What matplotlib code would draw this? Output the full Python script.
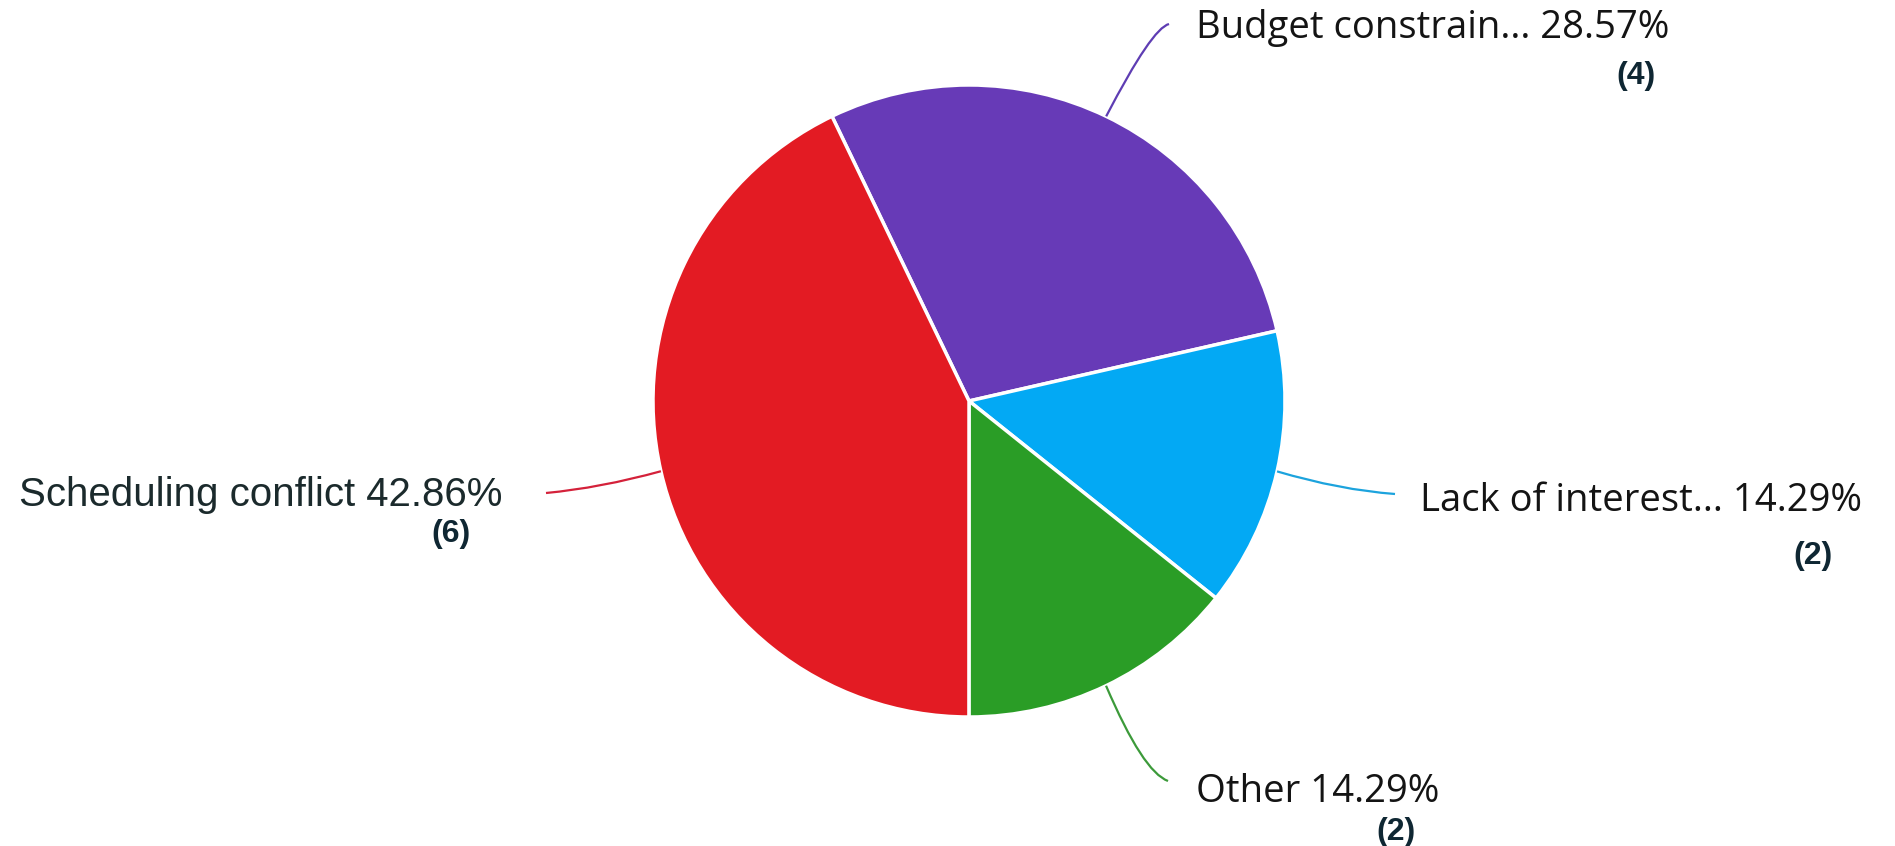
import numpy as np
import matplotlib
matplotlib.use("Agg")
import matplotlib.pyplot as plt
from matplotlib.path import Path
from matplotlib.patches import PathPatch

categories = ["Budget constrain...", "Lack of interest...", "Other", "Scheduling conflict"]
counts = [4, 2, 2, 6]
colors = ["#673AB7", "#03A9F4", "#2A9D26", "#E31B23"]
line_colors = ["#5E3DB3", "#1CA3DD", "#3C9A3A", "#D4213A"]

W, H = 1895, 846
fig = plt.figure(figsize=(W / 100, H / 100), dpi=100)
ax = fig.add_axes([0, 0, 1, 1])

cx, cy, R = 969, 445, 316
start = 115.7
ax.pie(counts, colors=colors, startangle=start, counterclock=False,
       center=(cx, cy), radius=R,
       wedgeprops=dict(edgecolor="white", linewidth=2.5))
ax.set_xlim(0, W)
ax.set_ylim(0, H)
ax.set_aspect("equal")
ax.axis("off")

total = sum(counts)
pcts = [100 * c / total for c in counts]

lab_font, lab_size = "Open Sans", 27.5
layout = [
    dict(end=(1169, H - 24), ctrl=(1152, H - 28), txt=(1196, H - 28), ha="left",
         cnt=(1636, H - 76), font=lab_font, size=lab_size, tcol="#141414"),
    dict(end=(1395, H - 494), ctrl=(1340, H - 490), txt=(1420, H - 501), ha="left",
         cnt=(1813, H - 556), font=lab_font, size=lab_size, tcol="#141414"),
    dict(end=(1168, H - 781), ctrl=(1143, H - 772), txt=(1196, H - 792), ha="left",
         cnt=(1396, H - 832), font=lab_font, size=lab_size, tcol="#141414"),
    dict(end=(546, H - 493), ctrl=(600, H - 488), txt=(502, H - 495), ha="right",
         cnt=(451, H - 534), font="Liberation Sans", size=29, tcol="#1B2A2C"),
]

theta = start
for i, (cat, c, p) in enumerate(zip(categories, counts, pcts)):
    span = 360 * c / total
    mid = np.deg2rad(theta - span / 2)
    theta -= span
    sx, sy = cx + R * np.cos(mid), cy + R * np.sin(mid)
    L = layout[i]
    path = Path([(sx, sy), L["ctrl"], L["end"]], [Path.MOVETO, Path.CURVE3, Path.CURVE3])
    ax.add_patch(PathPatch(path, fill=False, edgecolor=line_colors[i], lw=1.6))
    ax.text(L["txt"][0], L["txt"][1], f"{cat} {p:.2f}%", ha=L["ha"], va="center",
            fontsize=L["size"], family=L["font"], color=L["tcol"])
    ax.text(L["cnt"][0], L["cnt"][1], f"({c})", ha="center", va="center",
            fontsize=23, family="Liberation Sans", fontweight="bold", color="#0F2733")

fig.savefig("out.png", dpi=100)
